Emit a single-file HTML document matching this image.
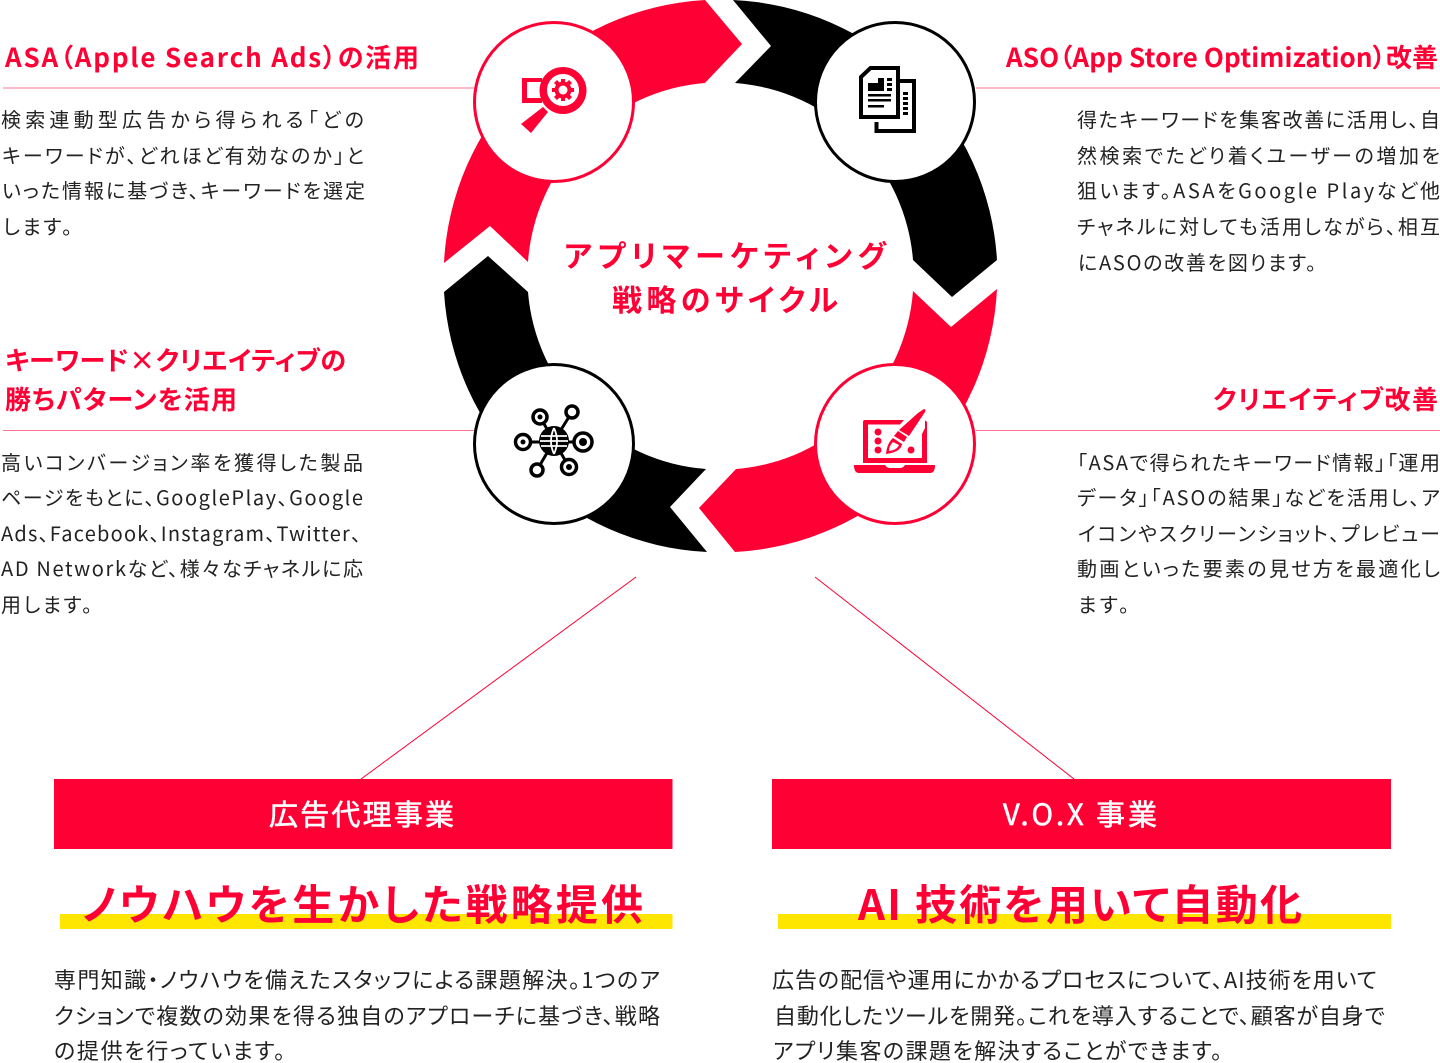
<!DOCTYPE html>
<html lang="ja"><head><meta charset="utf-8"><title>アプリマーケティング戦略のサイクル</title>
<style>
html,body{margin:0;padding:0;background:#fff}
svg{display:block}
text{font-family:"Noto Sans CJK JP","Liberation Sans",sans-serif;font-feature-settings:"palt";white-space:pre}
.b{font-size:20px;fill:#222;font-weight:400}
.h{font-size:26px;fill:#ff0035;font-weight:700}
.c{font-size:30px;fill:#ff0035;font-weight:700}
.t{font-size:29px;fill:#fff;font-weight:400;stroke:#fff;stroke-width:.6}
.k{font-size:42px;fill:#ff0035;font-weight:700}
.m{font-size:22px;fill:#222;font-weight:400}
</style></head><body>
<svg width="1440" height="1063" viewBox="0 0 1440 1063" xmlns="http://www.w3.org/2000/svg">
<rect width="1440" height="1063" fill="#fff"/>
<g stroke="#ff0035" stroke-width="1" fill="none">
<path d="M3 88H474M976 88H1440M3 430.500H474M976 430.500H1440" stroke-opacity=".55"/>
<path d="M636 577L361 779M815 577L1074 779"/>
</g>
<path fill="#ff0035" d="M705 0L742 44L705 83A193 193 0 0 0 528 262L490 226L444 263A277 277 0 0 1 705 0Z"/>
<path fill="#000" d="M733 0L771 46L735 83A193 193 0 0 1 913 260L952 297L997 260A277 277 0 0 0 733 0Z"/>
<path fill="#ff0035" d="M913 291L951 327L997 289A277 277 0 0 1 735 552L699 508L736 469A193 193 0 0 0 913 291Z"/>
<path fill="#000" d="M444 292L488 256L528 292A193 193 0 0 0 706 469L670 507L707 552A277 277 0 0 1 444 292Z"/>
<circle cx="554" cy="102" r="79.500" fill="#fff" stroke="#ff0035" stroke-width="3"/>
<circle cx="895" cy="102" r="79.500" fill="#fff" stroke="#000" stroke-width="3"/>
<circle cx="554" cy="444" r="79.500" fill="#fff" stroke="#000" stroke-width="3"/>
<circle cx="895" cy="444" r="79.500" fill="#fff" stroke="#ff0035" stroke-width="3"/>

<!-- magnifier -->
<g fill="#ff0035">
<path fill-rule="evenodd" d="M522 78H542V82H527V98H542V103H522Z"/>
<path fill-rule="evenodd" d="M563 67a23.500 23.500 0 1 0 .01 0ZM563 74a16 16 0 1 1-.01 0Z"/>
<path d="M543 107L548 112L531 133L521 124Z"/>
<circle cx="563" cy="90" r="8.500"/>
<path d="M561 79h4v4h-4ZM561 97h4v4h-4ZM552 88h4v4h-4ZM570 88h4v4h-4Z"/>
<path d="M554 83l3-3 3 3-3 3ZM566 83l3-3 3 3-3 3ZM554 97l3-3 3 3-3 3ZM566 97l3-3 3 3-3 3Z"/>
<circle cx="563" cy="90" r="4.500" fill="#fff"/>
</g>
<!-- documents -->
<g fill="none" stroke="#000">
<path stroke-width="4" d="M882 81H914V131H876.500V122"/>
<path stroke-width="4" fill="#fff" d="M870.500 68H898V117H861V77Z"/>
</g>
<g fill="#000">
<path d="M868 83H878V78H884V91H868Z"/>
<path d="M887 78h5v3h-5ZM887 83h5v3h-5ZM887 88h5v3h-5ZM903 92h5v3h-5ZM903 97h5v3h-5ZM903 102h5v3h-5ZM903 107h5v3h-5ZM903 112h5v3h-5Z"/>
<path d="M868 94H891V96.500H868ZM868 99H891V101.500H868ZM868 105H884V107.500H868Z"/>
</g>
<!-- network -->
<g fill="none" stroke="#000" stroke-width="3.500">
<path stroke-width="3" d="M540 417L554 441L572 412M523 442H583M537 470L554 441L569 467"/>
<circle cx="554" cy="441" r="15" fill="#000" stroke="none"/>
<path stroke="#fff" stroke-width="1.800" d="M541 436H567M540 441H568M541 446H567"/>
<path stroke="#fff" stroke-width="1.800" d="M554 428Q548 441 554 454M554 428Q560 441 554 454"/>
<circle cx="540" cy="417" r="7" fill="#fff"/><circle cx="540" cy="417" r="2.500" fill="#000" stroke="none"/>
<circle cx="572" cy="412" r="6" fill="#fff"/>
<circle cx="523" cy="442" r="7.500" fill="#fff"/><circle cx="523" cy="442" r="2.500" fill="#000" stroke="none"/>
<circle cx="583" cy="442" r="9" fill="#fff"/><circle cx="583" cy="442" r="4" fill="#000" stroke="none"/>
<circle cx="537" cy="470" r="6" fill="#fff"/>
<circle cx="569" cy="467" r="7.500" fill="#fff"/><circle cx="569" cy="467" r="3" fill="#000" stroke="none"/>
</g>
<!-- laptop -->
<g fill="#ff0035">
<path fill-rule="evenodd" d="M865 420H904L900 424.500H868V458H922V434L925 428V420.500Q927 421 927 423V463H863V422Q863 420 865 420Z"/>
<path d="M854 465H885Q887 468 890 468H900Q903 468 905 465H935Q935 473 930 473H859Q854 473 854 465Z"/>
<circle cx="878" cy="432" r="3.500"/><circle cx="878" cy="441" r="3.500"/><circle cx="878" cy="450" r="3.500"/><circle cx="911" cy="450" r="3.500"/>
<path d="M924 409Q926 409 925 412L909 436L899 430L918 413Z"/>
<path d="M898 431L907 437L904 442L894 436Z"/>
<path fill-rule="evenodd" d="M893 438L902 444Q901 452 886 454Q887 443 893 438ZM893 442Q889 446 889 451Q897 450 899 445Z"/>
</g>

<text class="c" x="564" y="267" textLength="322">アプリマーケティング</text>
<text class="c" x="612" y="311" textLength="226">戦略のサイクル</text>

<text class="h" x="5" y="67" textLength="414">ASA（Apple Search Ads）の活用</text>
<text class="h" x="1006" y="67" textLength="432">ASO（App Store Optimization）改善</text>
<text class="h" x="5" y="370" textLength="341">キーワード×クリエイティブの</text>
<text class="h" x="5" y="409" textLength="232">勝ちパターンを活用</text>
<text class="h" x="1213" y="409" textLength="225">クリエイティブ改善</text>

<text class="b" x="1" y="127" textLength="363">検索連動型広告から得られる「どの</text>
<text class="b" x="2" y="163" textLength="362">キーワードが、どれほど有効なのか」と</text>
<text class="b" x="2" y="198" textLength="363">いった情報に基づき、キーワードを選定</text>
<text class="b" x="3" y="234" textLength="69">します。</text>

<text class="b" x="1" y="470" textLength="362">高いコンバージョン率を獲得した製品</text>
<text class="b" x="1" y="505" textLength="362">ページをもとに、GooglePlay、Google</text>
<text class="b" x="1" y="541" textLength="360">Ads、Facebook、Instagram、Twitter、</text>
<text class="b" x="1" y="576" textLength="362">AD Networkなど、様々なチャネルに応</text>
<text class="b" x="1" y="612" textLength="91">用します。</text>

<text class="b" x="1077" y="127" textLength="363">得たキーワードを集客改善に活用し、自</text>
<text class="b" x="1077" y="163" textLength="363">然検索でたどり着くユーザーの増加を</text>
<text class="b" x="1077" y="198" textLength="363">狙います。ASAをGoogle Playなど他</text>
<text class="b" x="1077" y="234" textLength="363">チャネルに対しても活用しながら、相互</text>
<text class="b" x="1078" y="270" textLength="238">にASOの改善を図ります。</text>

<text class="b" x="1077" y="470" textLength="363">「ASAで得られたキーワード情報」「運用</text>
<text class="b" x="1077" y="505" textLength="363">データ」「ASOの結果」などを活用し、ア</text>
<text class="b" x="1078" y="541" textLength="362">イコンやスクリーンショット、プレビュー</text>
<text class="b" x="1077" y="576" textLength="363">動画といった要素の見せ方を最適化し</text>
<text class="b" x="1078" y="612" textLength="51">ます。</text>

<rect x="54" y="779" width="618.500" height="70" fill="#ff0035"/>
<rect x="772" y="779" width="619" height="70" fill="#ff0035"/>
<text class="t" x="269" y="825" textLength="185">広告代理事業</text>
<text class="t" x="1003" y="825" textLength="154">V.O.X 事業</text>
<rect x="60" y="914" width="612.500" height="15" fill="#ffe600"/>
<rect x="778" y="914" width="613" height="15" fill="#ffe600"/>
<text class="k" x="82" y="920" textLength="561">ノウハウを生かした戦略提供</text>
<text class="k" x="858" y="920" textLength="444">AI 技術を用いて自動化</text>

<text class="m" x="54" y="988" textLength="606">専門知識・ノウハウを備えたスタッフによる課題解決。1つのア</text>
<text class="m" x="54" y="1024" textLength="606">クションで複数の効果を得る独自のアプローチに基づき、戦略</text>
<text class="m" x="54" y="1059" textLength="231">の提供を行っています。</text>
<text class="m" x="772" y="988" textLength="605">広告の配信や運用にかかるプロセスについて、AI技術を用いて</text>
<text class="m" x="774" y="1024" textLength="611">自動化したツールを開発。これを導入することで、顧客が自身で</text>
<text class="m" x="773" y="1059" textLength="449">アプリ集客の課題を解決することができます。</text>
</svg>
</body></html>
